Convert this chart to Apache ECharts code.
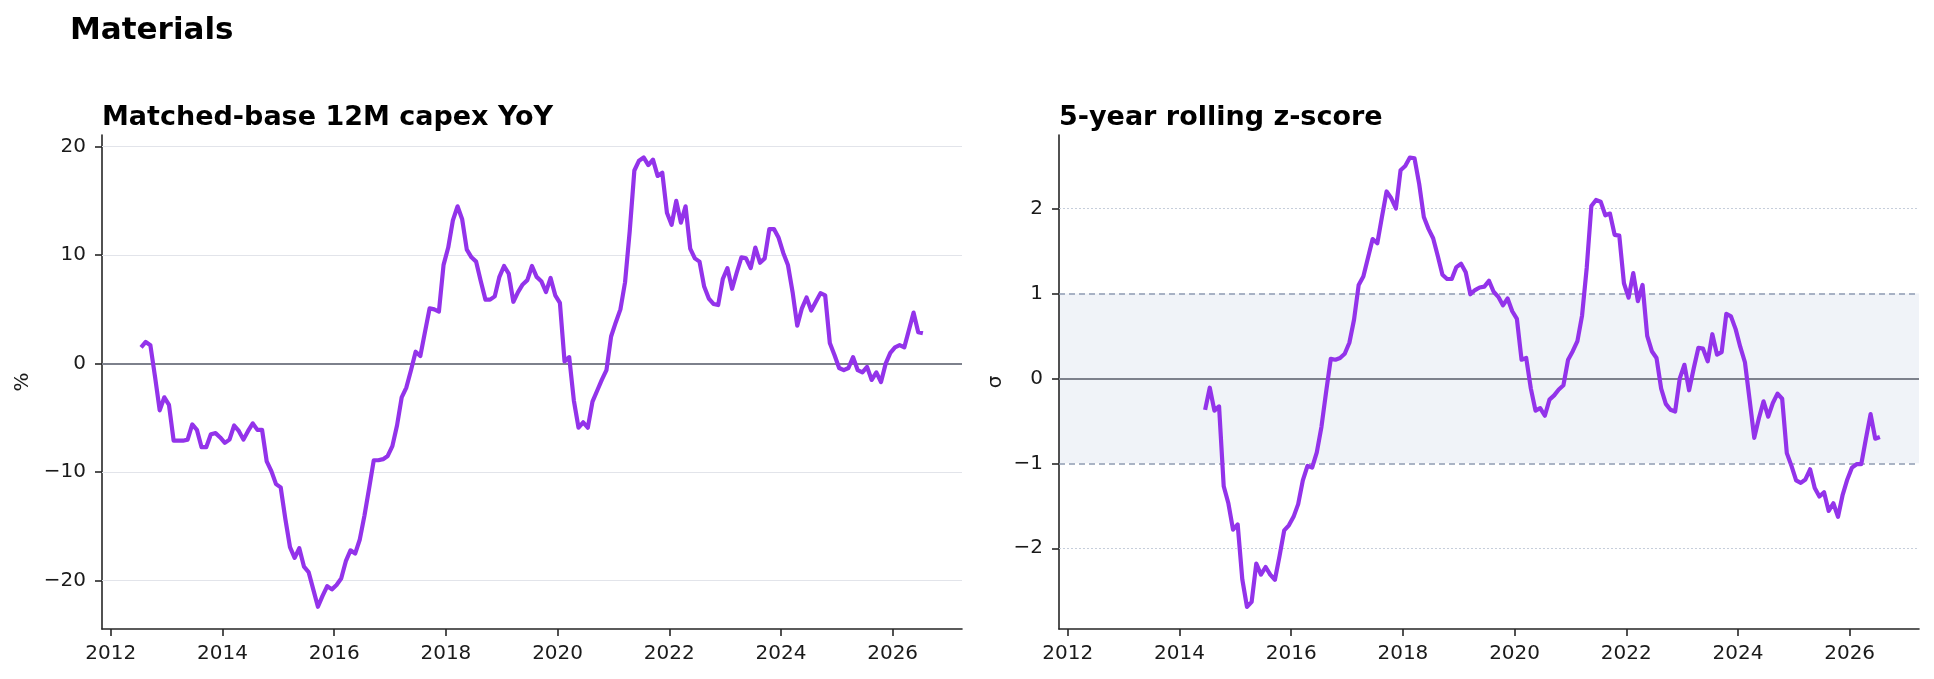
<!DOCTYPE html>
<html>
<head>
<meta charset="utf-8">
<title>Materials</title>
<script src="https://cdn.jsdelivr.net/npm/echarts@6.0.0/dist/echarts.min.js"></script>
<style>
  html, body { margin: 0; padding: 0; background: #fff; }
  #chart { width: 1934px; height: 679px; }
</style>
</head>
<body>
<div id="chart"></div>
<script>
// monthly series, first point = July 2012
var startYear = 2012
var startMonth = 7

// matched-base 12M capex YoY, %
var yoyValues = [
  1.5, 2.0, 1.7, -1.2, -4.3, -3.1, -3.8, -7.1, -7.1, -7.1, -7.0, -5.6,
  -6.1, -7.7, -7.7, -6.5, -6.4, -6.8, -7.3, -7.0, -5.7, -6.2, -7.0, -6.2,
  -5.5, -6.1, -6.1, -9.0, -9.9, -11.1, -11.4, -14.3, -16.9, -17.9, -17.0, -18.7,
  -19.2, -20.8, -22.4, -21.4, -20.5, -20.8, -20.4, -19.8, -18.2, -17.2, -17.5, -16.2,
  -14.0, -11.5, -8.9, -8.9, -8.8, -8.5, -7.6, -5.7, -3.1, -2.2, -0.6, 1.1,
  0.7, 2.9, 5.1, 5.0, 4.8, 9.1, 10.7, 13.2, 14.5, 13.3, 10.5, 9.8,
  9.4, 7.6, 5.9, 5.9, 6.2, 8.0, 9.0, 8.3, 5.7, 6.6, 7.3, 7.7,
  9.0, 8.0, 7.6, 6.6, 7.9, 6.3, 5.6, 0.2, 0.6, -3.4, -5.9, -5.4,
  -5.9, -3.5, -2.5, -1.5, -0.6, 2.5, 3.8, 5.0, 7.5, 12.2, 17.8, 18.7,
  19.0, 18.3, 18.8, 17.3, 17.6, 13.9, 12.8, 15.0, 13.0, 14.5, 10.6, 9.7,
  9.4, 7.1, 6.0, 5.5, 5.4, 7.8, 8.8, 6.9, 8.4, 9.8, 9.7, 8.8,
  10.7, 9.3, 9.7, 12.4, 12.4, 11.6, 10.2, 9.1, 6.6, 3.5, 5.1, 6.1,
  4.9, 5.7, 6.5, 6.3, 1.9, 0.8, -0.4, -0.6, -0.4, 0.6, -0.6, -0.8,
  -0.3, -1.5, -0.8, -1.7, 0.0, 1.0, 1.5, 1.7, 1.5, 3.1, 4.7, 2.9,
  2.8
]

// 5-year rolling z-score, starts 23 months later (June 2014)
var zOffset = 23
var zValues = [
  -0.37, -0.11, -0.38, -0.33, -1.27, -1.47, -1.78, -1.72, -2.37, -2.69, -2.63, -2.18,
  -2.31, -2.22, -2.31, -2.37, -2.09, -1.79, -1.73, -1.63, -1.48, -1.20, -1.03, -1.05,
  -0.87, -0.57, -0.16, 0.23, 0.22, 0.24, 0.29, 0.42, 0.69, 1.10, 1.20, 1.42,
  1.64, 1.59, 1.90, 2.20, 2.12, 2.00, 2.45, 2.50, 2.60, 2.59, 2.29, 1.90,
  1.76, 1.65, 1.44, 1.22, 1.17, 1.17, 1.31, 1.35, 1.25, 0.99, 1.04, 1.07,
  1.08, 1.15, 1.02, 0.96, 0.86, 0.94, 0.79, 0.70, 0.22, 0.24, -0.12, -0.38,
  -0.35, -0.44, -0.25, -0.20, -0.13, -0.08, 0.22, 0.32, 0.44, 0.74, 1.30, 2.03,
  2.10, 2.08, 1.92, 1.94, 1.69, 1.68, 1.12, 0.95, 1.24, 0.91, 1.10, 0.50,
  0.32, 0.24, -0.12, -0.30, -0.37, -0.39, 0.00, 0.16, -0.14, 0.12, 0.36, 0.35,
  0.20, 0.52, 0.28, 0.31, 0.76, 0.73, 0.58, 0.37, 0.19, -0.25, -0.70, -0.47,
  -0.27, -0.45, -0.29, -0.18, -0.24, -0.88, -1.03, -1.20, -1.23, -1.19, -1.07, -1.29,
  -1.39, -1.34, -1.56, -1.47, -1.63, -1.37, -1.19, -1.05, -1.01, -1.01, -0.71, -0.42,
  -0.71, -0.69
]

var yearTicks = [2012, 2014, 2016, 2018, 2020, 2022, 2024, 2026]
var yoyTicks = [-20, -10, 0, 10, 20]
var zTicks = [-2, -1, 0, 1, 2]

// month index -> decimal year (mid-month)
function toYear (i) {
  return startYear + (startMonth - 1 + i + 0.5) / 12
}

var yoyData = yoyValues.map(function (v, i) { return [toYear(i), v] })
var zData = zValues.map(function (v, i) { return [toYear(i + zOffset), v] })

var font = 'DejaVu Sans'
var purple = '#9333ea'
var spine = '#262626'

function minus (v) {
  return String(v).replace('-', '\u2212')
}

function xAxisFor (gridIndex) {
  return {
    type: 'value',
    gridIndex: gridIndex,
    min: 2011.842,
    max: 2027.242,
    axisLine: { onZero: false, lineStyle: { color: spine, width: 1.6 } },
    axisTick: { customValues: yearTicks, length: 7, lineStyle: { color: spine, width: 1.6 } },
    axisLabel: {
      customValues: yearTicks,
      margin: 15,
      color: '#1a1a1a',
      fontFamily: font,
      fontSize: 20,
      formatter: function (v) { return String(v) }
    },
    splitLine: { show: false }
  }
}

function yAxisFor (gridIndex, ticks, min, max, name, gap) {
  return {
    type: 'value',
    gridIndex: gridIndex,
    min: min,
    max: max,
    name: name,
    nameLocation: 'middle',
    nameRotate: 90,
    nameGap: gap,
    nameTextStyle: { fontFamily: font, fontSize: 20, color: '#1a1a1a' },
    axisLine: { show: true, onZero: false, lineStyle: { color: spine, width: 1.6 } },
    axisTick: { show: true, customValues: ticks, length: 7, lineStyle: { color: spine, width: 1.6 } },
    axisLabel: {
      customValues: ticks,
      margin: 16,
      color: '#1a1a1a',
      fontFamily: font,
      fontSize: 20,
      formatter: minus
    },
    splitLine: { show: false }
  }
}

var chart = echarts.init(document.getElementById('chart'))

chart.setOption({
  animation: false,
  title: [
    {
      text: 'Materials',
      left: 70,
      top: 15,
      padding: 0,
      textStyle: { fontFamily: font, fontSize: 31, fontWeight: 'bold', color: '#000' }
    },
    {
      text: 'Matched-base 12M capex YoY',
      left: 102,
      top: 104,
      padding: 0,
      textStyle: { fontFamily: font, fontSize: 27, fontWeight: 'bold', color: '#000' }
    },
    {
      text: '5-year rolling z-score',
      left: 1059,
      top: 104,
      padding: 0,
      textStyle: { fontFamily: font, fontSize: 27, fontWeight: 'bold', color: '#000' }
    }
  ],
  grid: [
    { left: 102, top: 135, width: 860, height: 494 },
    { left: 1059, top: 135, width: 860, height: 494 }
  ],
  xAxis: [xAxisFor(0), xAxisFor(1)],
  yAxis: [
    yAxisFor(0, yoyTicks, -24.45, 21.07, '%', 69),
    yAxisFor(1, zTicks, -2.95, 2.865, 'σ', 53)
  ],
  series: [
    {
      name: 'YoY',
      type: 'line',
      xAxisIndex: 0,
      yAxisIndex: 0,
      data: yoyData,
      showSymbol: false,
      z: 5,
      lineStyle: { color: purple, width: 4.2, join: 'round' },
      markLine: {
        silent: true,
        symbol: 'none',
        z: 1,
        label: { show: false },
        data: [
          { yAxis: -20, lineStyle: { color: '#e2e4ea', width: 1, type: 'solid' } },
          { yAxis: -10, lineStyle: { color: '#e2e4ea', width: 1, type: 'solid' } },
          { yAxis: 10, lineStyle: { color: '#e2e4ea', width: 1, type: 'solid' } },
          { yAxis: 20, lineStyle: { color: '#e2e4ea', width: 1, type: 'solid' } },
          { yAxis: 0, lineStyle: { color: '#7d818c', width: 2, type: 'solid' } }
        ]
      }
    },
    {
      name: 'z-score',
      type: 'line',
      xAxisIndex: 1,
      yAxisIndex: 1,
      data: zData,
      showSymbol: false,
      z: 5,
      lineStyle: { color: purple, width: 4.2, join: 'round' },
      markArea: {
        silent: true,
        z: 0,
        itemStyle: { color: '#f0f3f8' },
        data: [[{ yAxis: -1 }, { yAxis: 1 }]]
      },
      markLine: {
        silent: true,
        symbol: 'none',
        z: 1,
        label: { show: false },
        data: [
          { yAxis: -2, lineStyle: { color: '#c6cedb', width: 1, type: [2, 2] } },
          { yAxis: 2, lineStyle: { color: '#c6cedb', width: 1, type: [2, 2] } },
          { yAxis: -1, lineStyle: { color: '#8f9cb2', width: 1.5, type: [6, 4] } },
          { yAxis: 1, lineStyle: { color: '#8f9cb2', width: 1.5, type: [6, 4] } },
          { yAxis: 0, lineStyle: { color: '#7d818c', width: 2, type: 'solid' } }
        ]
      }
    }
  ]
})
</script>
</body>
</html>
